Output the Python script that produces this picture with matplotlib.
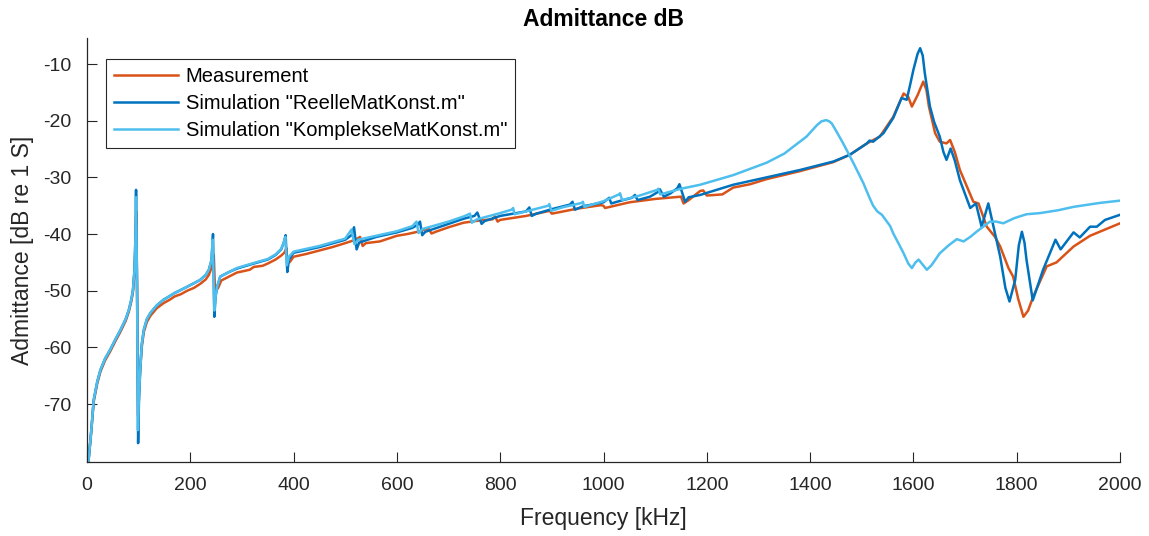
import matplotlib
matplotlib.use("Agg")
import matplotlib.pyplot as plt

plt.rcParams["font.family"] = ["Liberation Sans", "DejaVu Sans"]

# Measured admittance (kHz, dB re 1 S)
meas_f = [2, 8, 13, 20, 26, 35, 45, 55, 65, 75, 81, 86, 89, 92, 94, 95.5, 97, 99, 100.5, 103,
          106, 110, 116, 123, 135, 148, 160, 170, 182, 194, 207, 219, 230, 236, 241, 243, 245.5,
          247.5, 250, 254, 260, 275, 290, 305, 315, 323, 340, 350, 365, 376, 382, 386, 388, 392,
          400, 425, 450, 475, 500, 520, 528.6, 533.7, 540, 567, 600, 620, 640, 661, 667, 675,
          700, 729, 760, 785, 790, 795, 800, 850, 896, 900, 950, 995, 1000, 1003, 1050, 1100,
          1150, 1155, 1165, 1187, 1193, 1200, 1230, 1251, 1284, 1316, 1380, 1445, 1477, 1510,
          1535, 1561, 1572, 1581, 1590, 1597, 1608, 1619, 1625, 1630, 1642, 1651, 1664, 1671,
          1680, 1690, 1716, 1726, 1742, 1758, 1768, 1784, 1793, 1803, 1813, 1822, 1832, 1858,
          1877, 1910, 1942, 2000]
meas_db = [-81, -75.2, -69.6, -66.3, -64.3, -62.3, -60.7, -58.9, -57.2, -55.3, -53.7, -51.8,
           -50.2, -46.8, -42, -36, -50, -72, -68, -64, -60, -57.3, -55.5, -54.4, -53.1, -52.2,
           -51.6, -51.0, -50.6, -50.0, -49.5, -48.8, -48.0, -47.2, -46.0, -45.2, -43.7, -49.0,
           -50.0, -49.5, -48.2, -47.5, -46.8, -46.5, -46.3, -45.8, -45.6, -45.2, -44.5, -43.8,
           -43.3, -42.5, -44.8, -45.0, -44.0, -43.5, -42.9, -42.3, -41.6, -41.0, -40.5, -42.1,
           -41.6, -41.3, -40.3, -40.0, -39.6, -39.0, -39.9, -39.6, -38.8, -38.0, -37.6, -37.4,
           -36.9, -37.8, -37.5, -36.8, -35.9, -36.4, -35.5, -34.9, -35.0, -35.4, -34.4, -33.8,
           -33.4, -34.6, -34.0, -32.4, -32.3, -33.2, -33.0, -31.8, -31.2, -30.3, -28.9, -27.3,
           -26.0, -24.0, -22.8, -19.3, -17.0, -15.2, -15.8, -17.5, -15.5, -13.1, -14.5, -17.5,
           -22.2, -23.7, -24.0, -23.4, -25.5, -28.7, -34.3, -34.6, -38.7, -40.5, -42.2, -46.0,
           -47.5, -51.5, -54.6, -53.5, -51.0, -45.7, -45.0, -42.2, -40.3, -38.1]

# Simulation with real material constants
reel_f = [2, 8, 13, 20, 26, 35, 45, 55, 65, 75, 81, 86, 89, 92, 94, 95, 97, 99, 100.5, 103,
          106, 110, 116, 123, 135, 148, 170, 194, 219, 230, 236, 241, 244, 246.5, 249, 252, 258,
          275, 290, 323, 350, 365, 376, 381, 384.6, 387.8, 391, 400, 450, 500, 512, 517, 522,
          527, 560, 600, 630, 641, 644.7, 649, 655, 700, 729, 750, 755.7, 764, 770, 800, 850,
          856.4, 861, 870, 900, 935, 940, 944.8, 960, 1000, 1011, 1015, 1030, 1055, 1061, 1066,
          1090, 1105, 1109, 1117, 1130, 1143, 1147, 1158, 1165, 1187, 1251, 1316, 1380, 1445,
          1477, 1500, 1510, 1515, 1522, 1542, 1561, 1577, 1587, 1594, 1600, 1608, 1613, 1618,
          1622, 1632, 1640, 1651, 1658, 1664, 1672, 1680, 1690, 1710, 1721, 1732, 1745, 1755,
          1768, 1778, 1786, 1797, 1804, 1810, 1815, 1819, 1831, 1851, 1875, 1885, 1910, 1922,
          1942, 1955, 1971, 2000]
reel_db = [-81, -75, -69.3, -66, -64, -62, -60.4, -58.6, -56.9, -55, -53.4, -51.5, -49.9, -46.3,
           -40, -32.2, -50, -76.9, -70, -64, -59.5, -56.9, -55, -53.9, -52.6, -51.6, -50.4,
           -49.3, -48.1, -47.2, -46.3, -44.6, -40.0, -54.6, -51, -49.3, -47.5, -46.7, -46.1,
           -45.2, -44.5, -43.7, -42.7, -41.5, -40.2, -46.7, -44.5, -43.3, -42.3, -41.0, -40.2,
           -38.8, -42.7, -41.5, -40.5, -39.7, -38.9, -38.3, -37.8, -40.2, -39.6, -38.2, -37.3,
           -36.8, -36.2, -38.2, -37.7, -36.8, -36.0, -35.3, -36.8, -36.4, -35.6, -34.8, -34.3,
           -35.7, -35.1, -34.4, -33.6, -34.6, -34.2, -33.6, -33.1, -34.0, -33.4, -32.6, -32.1,
           -33.4, -32.8, -31.9, -31.2, -34.3, -33.5, -33.1, -31.3, -30.0, -28.7, -27.2, -26.0,
           -24.6, -24.0, -23.5, -23.7, -22.2, -19.5, -16.0, -16.3, -13.5, -11.0, -8.2, -7.2,
           -8.5, -11.6, -17.5, -20.2, -22.8, -25.5, -26.9, -24.9, -27.0, -30.5, -35.4, -34.6,
           -38.7, -34.6, -38.7, -44.0, -49.5, -51.9, -48.1, -42.0, -39.6, -41.5, -44.6, -51.7,
           -46.3, -41.0, -42.7, -39.7, -40.6, -38.7, -38.7, -37.5, -36.6]

# Simulation with complex material constants
kompl_f = [2, 8, 13, 20, 26, 35, 45, 55, 65, 75, 81, 86, 89, 92, 94, 95, 97, 98.7, 100, 103,
           106, 110, 116, 123, 135, 148, 170, 194, 219, 230, 236, 241, 243.5, 246.5, 249, 252,
           258, 275, 290, 323, 350, 365, 376, 381, 384, 387, 391, 400, 450, 500, 512, 518, 525,
           560, 600, 630, 638, 642, 650, 700, 729, 741.5, 745, 755, 800, 822, 825, 828, 850,
           893, 895, 899, 920, 958, 960, 963, 1000, 1030, 1032, 1036, 1070, 1104, 1106, 1110,
           1150, 1187, 1251, 1316, 1350, 1380, 1393, 1413, 1422, 1431, 1437, 1442, 1451, 1464,
           1484, 1503, 1515, 1522, 1530, 1539, 1555, 1561, 1572, 1581, 1590, 1597, 1604, 1610,
           1617, 1626, 1635, 1651, 1668, 1684, 1697, 1710, 1722, 1735, 1748, 1760, 1774, 1795,
           1819, 1845, 1880, 1910, 1961, 2000]
kompl_db = [-81, -75, -69.3, -66, -64, -62, -60.4, -58.6, -56.9, -55, -53.4, -51.5, -49.9,
            -46.3, -40, -33.5, -50, -74.6, -70, -64, -59.5, -56.9, -55, -53.9, -52.6, -51.6,
            -50.4, -49.3, -48.1, -47.2, -46.3, -44.6, -41.0, -53.5, -51, -49.3, -47.5, -46.7,
            -46.0, -45.1, -44.4, -43.6, -42.6, -41.5, -40.5, -45.5, -44.0, -43.1, -42.1, -40.8,
            -39.2, -41.8, -41.0, -40.3, -39.5, -38.6, -37.8, -39.8, -39.1, -37.8, -36.9, -36.4,
            -38.0, -37.4, -36.3, -35.7, -35.4, -36.5, -36.0, -35.0, -34.7, -35.9, -35.3, -34.5,
            -34.3, -35.2, -34.2, -33.0, -32.8, -34.0, -33.2, -32.2, -32.0, -33.0, -32.0, -31.3,
            -29.6, -27.4, -25.8, -23.7, -22.8, -20.8, -20.1, -19.9, -20.1, -20.5, -21.9, -24.0,
            -27.5, -31.0, -33.6, -35.0, -36.0, -36.6, -38.6, -39.9, -41.8, -43.4, -45.2, -46.0,
            -45.0, -44.5, -45.3, -46.3, -45.5, -43.4, -42.0, -40.9, -41.3, -40.5, -39.6, -38.7,
            -37.8, -37.8, -38.1, -37.2, -36.5, -36.3, -35.8, -35.2, -34.5, -34.1]

labels = ["Measurement", 'Simulation "ReelleMatKonst.m"', 'Simulation "KomplekseMatKonst.m"']
colors = ["#D95319", "#0072BD", "#4DBEEE"]
x_ticks = list(range(0, 2001, 200))
y_ticks = [-70, -60, -50, -40, -30, -20, -10]

fig = plt.figure(figsize=(11.49, 5.36), dpi=100)
ax = fig.add_axes([0.0757, 0.138, 0.8991, 0.791])

for f, d, lab, c in zip([meas_f, reel_f, kompl_f], [meas_db, reel_db, kompl_db], labels, colors):
    ax.plot(f, d, color=c, lw=1.8, label=lab, solid_joinstyle="round")

ax.set_xlim(0, 2000)
ax.set_ylim(-80.23, -5.41)
ax.set_xticks(x_ticks)
ax.set_yticks(y_ticks)
ax.set_yticklabels([str(v) for v in y_ticks])
ax.tick_params(direction="in", length=7, width=0.8, colors="#262626", labelsize=14, pad=11)
for side in ("top", "right"):
    ax.spines[side].set_visible(False)
for side in ("left", "bottom"):
    ax.spines[side].set_color("#262626")
    ax.spines[side].set_linewidth(0.9)

ax.set_xlabel("Frequency [kHz]", fontsize=16.5, color="#262626", labelpad=9)
ax.set_ylabel("Admittance [dB re 1 S]", fontsize=16.5, color="#262626", labelpad=7)
ax.set_title("Admittance dB", fontsize=16.5, fontweight="bold", pad=9)

leg = ax.legend(loc="upper left", bbox_to_anchor=(0.0184, 0.9505), fontsize=14.5,
                handlelength=3.2, handletextpad=0.35, labelspacing=0.4, borderpad=0.4,
                borderaxespad=0, fancybox=False, framealpha=1)
leg.get_frame().set_edgecolor("#262626")
leg.get_frame().set_linewidth(0.8)

fig.savefig("out.png", dpi=100)
